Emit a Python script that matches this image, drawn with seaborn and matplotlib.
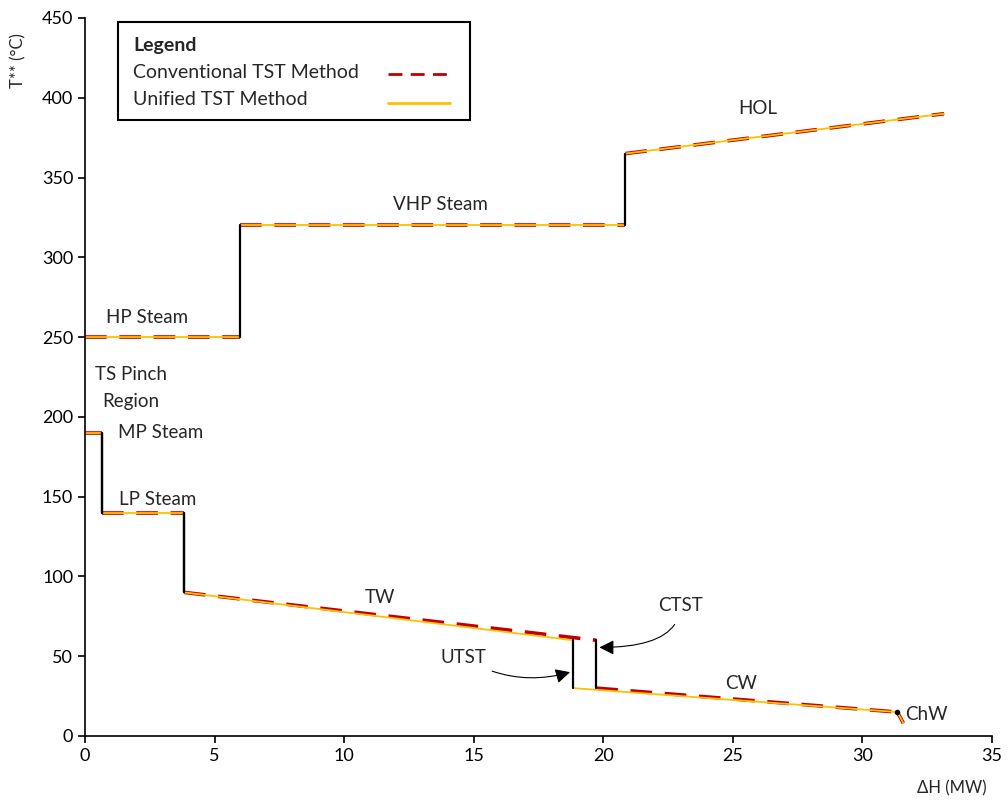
import numpy as np
import pandas as pd
import seaborn as sns
import matplotlib.pyplot as plt
from matplotlib.patches import Rectangle

# data (dH in MW, T** in deg C)
hot_dh = [0, 6.0, 6.0, 20.85, 20.85, 33.15]
hot_t = [250, 250, 320, 320, 365, 390]

unified_dh = [0, 0.66, 0.66, 3.82, 3.82, 18.84, 18.84, 31.35, 31.58]
unified_t = [190, 190, 140, 140, 90, 60, 30, 15, 8]

conv_dh = [0, 0.66, 0.66, 3.82, 3.82, 19.73, 19.73, 31.35, 31.58]
conv_t = [190, 190, 140, 140, 90, 60, 30, 15, 8]

labels = ["HP Steam", "TS Pinch\nRegion", "MP Steam", "LP Steam", "TW",
          "VHP Steam", "HOL", "CW", "ChW"]
label_x = [2.38, 1.78, 2.93, 2.8, 11.37, 13.73, 25.97, 25.31, 32.45]
label_y = [262, 218, 190.5, 148, 87, 333, 393, 33, 13.5]

RED = "#C00000"
YEL = "#FFC000"


def split_curve(xs, ys):
    # sloped / flat pieces get the method colour, vertical pieces are black
    flat, vert = [], []
    for i in range(len(xs) - 1):
        piece = pd.DataFrame({"dH": xs[i:i + 2], "T": ys[i:i + 2]})
        if xs[i] == xs[i + 1]:
            vert.append(piece)
        else:
            flat.append(piece)
    flat = pd.concat([p.assign(seg=k) for k, p in enumerate(flat)])
    vert = pd.concat([p.assign(seg=k) for k, p in enumerate(vert)])
    return flat, vert


sns.set_style("ticks")
plt.rcParams["font.family"] = ["Lato", "DejaVu Sans"]

fig = plt.figure(figsize=(10.08, 8.02), dpi=100)
ax = fig.add_axes([0.0843, 0.0823, 0.8998, 0.8953])

hot_flat, hot_vert = split_curve(hot_dh, hot_t)
conv_flat, conv_vert = split_curve(conv_dh, conv_t)
uni_flat, uni_vert = split_curve(unified_dh, unified_t)

for flat in [hot_flat, conv_flat]:
    sns.lineplot(data=flat, x="dH", y="T", units="seg", estimator=None, sort=False,
                 color=RED, lw=2.6, ax=ax, linestyle=(0, (6, 3.5)))
for flat in [hot_flat, uni_flat]:
    sns.lineplot(data=flat, x="dH", y="T", units="seg", estimator=None, sort=False,
                 color=YEL, lw=1.3, ax=ax)
for vert in [hot_vert, conv_vert, uni_vert]:
    sns.lineplot(data=vert, x="dH", y="T", units="seg", estimator=None, sort=False,
                 color="black", lw=1.6, ax=ax)
ax.plot([31.35], [15], marker="o", ms=3, color="black", zorder=6)

for txt, x, y in zip(labels, label_x, label_y):
    ax.text(x, y, txt, ha="center", va="center", fontsize=13.5, linespacing=1.7)

ax.annotate("UTST", xy=(18.72, 40), xytext=(14.6, 49.2), fontsize=13.5,
            ha="center", va="center",
            arrowprops=dict(arrowstyle="-|>", color="black", lw=0.8,
                            mutation_scale=22, shrinkA=4, shrinkB=0,
                            connectionstyle="arc3,rad=0.22"))
ax.annotate("CTST", xy=(19.85, 55.5), xytext=(22.97, 82), fontsize=13.5,
            ha="center", va="center",
            arrowprops=dict(arrowstyle="-|>", color="black", lw=0.8,
                            mutation_scale=22, shrinkA=6, shrinkB=0,
                            connectionstyle="angle3,angleA=90,angleB=0"))

ax.set_xlim(0, 35)
ax.set_ylim(0, 450)
ax.set_xticks(np.arange(0, 36, 5))
ax.set_yticks(np.arange(0, 451, 50))
ax.tick_params(labelsize=13, direction="out", length=5, width=1.2, colors="black")
for s in ["left", "bottom"]:
    ax.spines[s].set_linewidth(1.2)
    ax.spines[s].set_color("black")
sns.despine(ax=ax)
ax.set_xlabel("")
ax.set_ylabel("")

fig.text(0.018, 0.925, "T** (°C)", rotation=90, ha="center", va="center", fontsize=12)
fig.text(0.944, 0.0175, "ΔH (MW)", ha="center", va="center", fontsize=12)

# boxed legend as in the reference: labels left, line samples right
ax.add_patch(Rectangle((0.0364, 0.858), 0.388, 0.1364, transform=ax.transAxes,
                       facecolor="white", edgecolor="black", lw=1.5, zorder=8))
ax.text(0.053, 0.9615, "Legend", transform=ax.transAxes, fontsize=14,
        fontweight="bold", va="center", ha="left", zorder=9)
ax.text(0.053, 0.924, "Conventional TST Method", transform=ax.transAxes, fontsize=14,
        va="center", ha="left", zorder=9)
ax.text(0.053, 0.8865, "Unified TST Method", transform=ax.transAxes, fontsize=14,
        va="center", ha="left", zorder=9)
ax.plot([0.334, 0.403], [0.9225, 0.9225], transform=ax.transAxes, color=RED, lw=2,
        linestyle=(0, (5, 3)), zorder=9)
ax.plot([0.334, 0.403], [0.881, 0.881], transform=ax.transAxes, color=YEL, lw=2,
        zorder=9)

fig.savefig("out.png", dpi=100)
